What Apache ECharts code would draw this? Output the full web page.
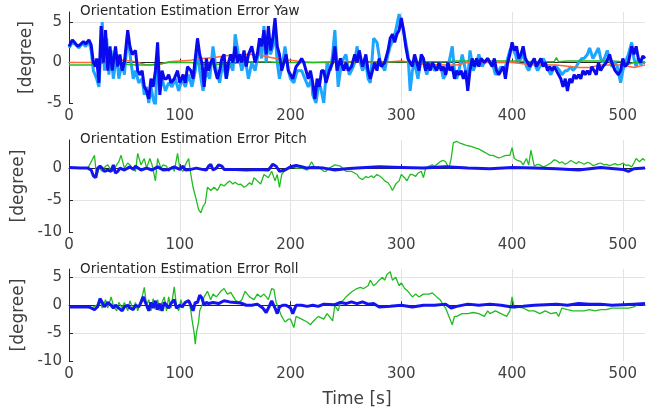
<!DOCTYPE html>
<html><head><meta charset="utf-8">
<script src="https://cdn.jsdelivr.net/npm/echarts@6/dist/echarts.min.js"></script>
<style>html,body{margin:0;padding:0;background:#fff}#c{width:654px;height:409px}</style>
</head><body><div id="c"></div>
<script>
const titles = ['Orientation Estimation Error Yaw','Orientation Estimation Error Pitch','Orientation Estimation Error Roll'];
const xTicks = [0,100,200,300,400,500];
const yawLight = [[0,1.8],[3,2.5],[6,2.2],[9,1.8],[12,2.4],[15,2],[18,2.6],[20,1.5],[22,-1],[25,-2],[27,-3],[30,5],[32,-1],[34,3],[36,-1.5],[38,1.5],[40,-2],[43,1],[45,-2],[48,0],[50,-1.5],[53,3.5],[56,0],[58,-2],[60,-1],[63,-2.5],[66,-2],[68,-4],[70,-3],[72,-5],[74,-3],[76,-4.5],[78,-5.5],[80,1],[82,-3.5],[84,-2],[87,-3.5],[90,-2.5],[93,-3],[96,-2],[99,-3.5],[102,-2],[105,-3],[108,-1.5],[111,-3],[114,-1],[116,1.5],[118,-1],[121,-3.5],[124,-1],[127,-2],[130,2],[133,-1],[136,-2.5],[139,0],[142,-2],[145,0],[148,-1],[150,3.5],[153,1],[156,-1],[159,0.5],[162,-2],[165,0],[168,-1],[172,2],[174,0.5],[176,4.5],[178,0],[180,3],[182,1],[184,2],[186,4],[188,0],[190,-2],[193,0],[195,2],[198,-1],[200,-2],[203,-2.5],[206,-1],[210,-1],[213,-2],[216,-3],[219,-2],[220,-4],[223,-5],[225,-3],[227,-3],[230,-5],[233,0],[236,-1],[238,1],[240,4],[243,-3],[246,0],[250,1],[253,-1.5],[255,-1],[258,0],[260,2],[263,0],[265,-1],[268,0],[270,-2],[272,-2.5],[275,3],[278,2.5],[281,0],[285,-1],[288,1],[290,2],[293,3],[295,4],[298,6],[300,5],[302,4],[304,2.5],[306,1],[308,-3.5],[310,-1],[312,0],[315,-2],[318,0.5],[320,0],[323,-1.5],[326,0],[330,-1],[333,-0.5],[335,0],[338,-2],[340,-1.5],[343,0],[346,2],[348,-1],[350,-2],[352,-1],[355,1],[358,-1],[360,-2],[362,1.5],[365,-1],[368,0],[370,1],[373,-0.5],[375,0],[378,0.5],[380,0],[383,-0.5],[385,-1.5],[388,-1],[390,-0.5],[393,-1],[395,0],[398,1.5],[400,2],[403,1],[405,0],[408,0.5],[410,1],[413,-0.5],[415,-1],[418,0],[420,0],[423,-1],[425,-0.5],[428,0.5],[430,0],[433,-1],[435,-1.5],[438,-0.5],[440,-0.5],[443,-1],[445,-1.5],[448,-1],[450,-1],[453,-0.5],[455,-1],[458,-0.5],[460,0],[463,0.5],[465,0.5],[468,1],[470,1.8],[473,0.5],[475,1],[478,1.8],[480,0.5],[482,0],[486,1.5],[488,0.5],[490,-0.5],[493,0],[495,-0.5],[498,-2.5],[500,-1],[502,0],[505,1],[508,2.5],[510,0.5],[512,-0.5],[514,0.5],[516,-0.2],[518,0],[520,0]];
const yawDark = [[0,2],[3,2.8],[5,2.5],[8,2.0],[10,2.2],[13,2.6],[15,2.3],[18,2.8],[20,2.2],[22,0],[24,-0.5],[25,0.5],[27,-2.5],[29,4.5],[31,0],[33,4],[35,-1],[37,2],[39,-1],[42,2],[44,-0.5],[46,1],[48,-1],[50,0],[53,4],[55,2],[57,1],[60,1.5],[62,-1],[64,-1.5],[66,-1],[68,-3],[70,-3.5],[72,-4.5],[74,-2],[76,-3],[78,-1],[80,2.5],[82,-4],[84,-1],[86,-2],[88,-2],[90,-1.5],[92,-2.5],[95,-2],[98,-1],[100,-2.5],[103,-1.5],[105,-2.5],[107,-0.5],[110,-1],[112,-2],[114,0.5],[116,3],[118,1],[120,0],[122,-3],[124,0.5],[126,-1],[128,0],[130,0.5],[132,-1],[134,-2],[136,-1],[138,0.5],[140,1],[142,-2],[144,0],[146,1],[148,0],[150,2],[152,0],[154,1],[156,0],[158,1.5],[160,-0.5],[162,1],[165,2],[168,0],[170,1],[172,3],[174,2],[176,4],[178,1],[180,4.5],[182,1.5],[184,3],[186,5.5],[188,2],[190,1],[192,-1],[194,0],[196,1],[198,-1],[200,-1.5],[202,-2],[205,-0.5],[208,0],[210,0.5],[212,0],[214,-1],[216,-2],[218,-1],[220,-2.5],[222,-4.5],[224,-2],[226,-3],[228,-1],[230,-1],[232,-2.5],[235,-1],[238,0],[240,2],[242,-1],[245,0.5],[248,-1],[250,0],[252,-1],[255,-0.5],[258,1],[260,0],[262,1.5],[265,-0.5],[268,1],[270,-1],[272,-2],[274,-1],[276,0],[278,-1],[280,0.5],[282,-0.5],[285,0],[288,1.5],[290,3],[292,3.5],[294,2.5],[296,3.5],[298,4],[300,5.5],[302,4],[304,2],[306,0.5],[308,0],[310,-0.5],[312,1],[314,0],[316,-1],[318,1],[320,0.5],[322,-1],[324,0],[326,-1],[328,0],[330,-0.5],[332,-1],[334,0],[336,-1],[338,-0.5],[340,-1.5],[342,0],[344,-1],[346,-0.5],[348,-2],[350,-1],[352,-1.5],[354,-1],[356,-2],[358,-1],[360,-3.5],[362,-1],[364,0.5],[366,-0.5],[368,0.5],[370,-0.5],[372,0.5],[375,0],[378,0.5],[380,0],[382,-0.5],[384,0.5],[386,-1],[388,-1.5],[390,-1],[392,-0.5],[394,-2],[396,0],[398,1],[400,2.5],[402,1.5],[404,2],[406,0.5],[408,1],[410,2],[412,0.5],[414,0],[416,-0.5],[418,0],[420,0.5],[422,-0.5],[424,0],[426,0.5],[428,-0.5],[430,0],[432,-1],[434,-0.5],[436,-1],[438,-0.5],[440,-1],[442,-1.5],[444,-2],[446,-3],[448,-2],[450,-3.5],[452,-2],[454,-2.5],[456,-1.5],[458,-2],[460,-1.5],[462,-2],[464,-1],[466,-1.5],[468,-1],[470,-1.5],[472,-0.5],[474,-1],[476,-1.5],[478,0],[480,-1],[482,-0.5],[485,0],[488,1],[490,0],[493,-1],[496,-1.5],[498,-1],[500,0.5],[502,-0.5],[505,0],[508,2],[510,1],[512,2],[514,0.5],[516,0],[518,0.8],[520,0.5]];
const yawOrange = [[0,0],[10,0],[20,0],[30,0.2],[40,0.2],[50,0.3],[60,0.1],[70,-0.3],[80,-0.3],[90,0.1],[100,0.2],[110,0.3],[120,0.5],[130,0.6],[140,0.8],[150,1.0],[160,1.0],[170,1.0],[180,0.7],[190,0.4],[200,0.3],[210,0.1],[220,0],[230,0],[240,0],[260,0.1],[280,0],[300,0.2],[320,-0.2],[340,-0.3],[350,-0.3],[360,0],[380,0],[400,0],[420,-0.3],[440,-0.3],[460,-0.6],[470,-0.6],[480,-0.3],[500,-0.3],[510,-0.6],[520,-0.3]];
const yawGreen = [[0,-0.3],[10,-0.3],[20,-0.3],[25,-0.1],[30,-0.1],[40,-0.1],[50,-0.2],[60,-0.3],[70,-0.3],[80,-0.2],[90,0],[100,0],[110,0],[120,-0.2],[130,-0.2],[140,-0.2],[150,-0.1],[160,0.1],[170,0.1],[180,0.1],[190,0],[200,0],[210,0],[220,0],[240,0.1],[260,0.1],[280,0.1],[300,0.1],[320,0.1],[340,0.1],[350,0.2],[370,0.2],[400,0.2],[420,0.1],[438,0.1],[440,0.6],[442,0.1],[450,0.2],[470,0.2],[490,0.2],[500,0.1],[505,-0.2],[510,0],[520,0.1]];
const pitchGreen = [[0,0],[10,0],[17,0],[20,1],[23,2],[25,-1.5],[27,0],[30,-0.5],[33,0.3],[35,0.5],[38,-0.3],[40,-0.5],[43,0.5],[45,1],[47,2],[50,0],[53,0.8],[55,0.5],[58,-0.2],[60,-0.5],[62,2.3],[65,0.5],[68,1.5],[70,0],[73,1.5],[75,0.5],[78,-2],[80,1.5],[83,0],[85,0.5],[88,0.3],[90,-0.5],[93,0.2],[95,-0.5],[98,2.3],[100,0],[103,-0.5],[105,0.5],[108,1.5],[110,-1],[112,-3],[115,-5],[117,-6.5],[119,-7],[121,-6],[123,-5.5],[125,-3],[128,-3.5],[131,-3],[134,-3.5],[137,-2.5],[140,-2.8],[143,-2.3],[145,-2],[148,-2.5],[150,-2.2],[153,-2.6],[155,-2.5],[158,-3],[160,-2.8],[163,-2.3],[165,-2.6],[167,-1.5],[170,-2],[173,-2.5],[176,-1],[180,-1.5],[183,-0.5],[186,-2],[188,-1],[190,-3],[192,-1],[195,-0.3],[200,0.3],[205,0],[210,0],[215,-0.3],[219,1],[222,0],[225,0.2],[230,-0.5],[232,-0.5],[235,0],[240,0.5],[245,0.3],[250,-0.5],[255,-0.5],[260,-1],[262,-1.5],[265,-1.8],[268,-1.3],[270,-1.5],[273,-1.2],[275,-1.5],[278,-1],[280,-1.2],[283,-1.6],[285,-2],[288,-2.3],[290,-2.8],[292,-3.5],[295,-2.5],[298,-2],[300,-1],[303,-1.5],[305,-2],[308,-1],[310,-1],[313,-1.3],[315,-0.8],[318,-0.5],[320,-1.5],[322,0],[325,0.3],[328,0.5],[330,0.3],[333,0.7],[335,1],[338,1.2],[340,1],[343,0],[345,1.5],[347,4],[350,4.2],[353,3.9],[355,3.8],[358,3.6],[360,3.5],[363,3.4],[365,3.3],[368,3.1],[370,3],[373,2.7],[375,2.5],[378,2.2],[380,2],[383,2],[385,1.8],[388,1.6],[390,1.7],[393,1.9],[395,2],[398,2],[400,3.2],[402,1.5],[405,1.2],[408,1.0],[410,0.5],[413,1.5],[415,0.5],[417,2.8],[420,0.3],[423,0.6],[425,0.5],[428,0.2],[430,0.3],[433,0.6],[435,0.8],[438,1.3],[440,1.2],[443,0.8],[445,1],[448,0.6],[450,0.8],[453,1.2],[455,1],[458,0.7],[460,1],[463,0.8],[465,0.6],[468,0.9],[470,0.8],[473,0.4],[475,0.5],[478,0.7],[480,0.8],[483,0.5],[485,0.6],[488,0.4],[490,0.5],[493,0.7],[495,0.5],[498,0.6],[500,0.8],[503,0.4],[505,0.5],[508,0.2],[510,0.8],[512,1.5],[515,1],[518,1.5],[520,1.2]];
const pitchBlue = [[0,0.1],[10,0],[17,0],[20,-0.3],[22,-1.2],[24,-1.5],[26,0],[28,0.3],[30,0],[32,-0.5],[35,-0.3],[38,-0.5],[40,0.5],[42,-0.8],[44,-0.5],[46,0],[50,-0.3],[55,0.2],[58,-0.2],[60,0.3],[65,-0.3],[70,0],[75,-0.3],[80,0.2],[85,-0.3],[90,-0.2],[95,0.2],[100,-0.2],[103,0.3],[105,-0.3],[110,-0.2],[115,0],[120,-0.2],[124,-0.3],[126,0.3],[128,0.6],[130,-0.3],[133,0],[135,0.5],[138,0.3],[140,-0.2],[150,-0.2],[160,-0.3],[170,-0.2],[180,-0.3],[184,0.6],[187,0.3],[190,-0.5],[195,-0.3],[200,0.2],[205,0.4],[210,0.2],[215,0],[220,0.1],[230,0],[240,-0.3],[250,-0.1],[260,0],[280,0.2],[300,0.1],[320,0],[340,0.2],[360,0],[380,-0.1],[400,0.1],[420,0],[440,-0.1],[460,-0.3],[480,0.1],[500,-0.2],[505,-0.5],[510,-0.1],[520,0]];
const rollGreen = [[0,-0.3],[10,-0.3],[15,-0.3],[20,-0.5],[25,0],[28,1],[30,-0.5],[33,1],[35,-0.5],[38,1.5],[40,0],[43,-1],[45,0.5],[48,-0.5],[50,0.5],[53,-1],[55,0.8],[58,-0.8],[60,0.5],[62,-1],[65,1],[66,1.5],[68,3.2],[70,0],[72,1],[74,-1],[76,1.2],[78,-0.8],[80,1],[82,-1],[84,0.5],[86,1.5],[88,-1],[90,1.5],[92,-0.5],[94,2],[95,3.3],[97,0],[99,-1],[101,1],[103,-0.5],[105,0.5],[108,1],[110,-1],[111,-2.5],[113,-5],[114,-7],[115,-5],[117,-3],[118,-1],[120,0],[122,1.5],[125,2.5],[128,1],[130,2],[133,1.5],[137,2.5],[140,3],[143,2],[146,2.3],[150,1],[153,0.5],[156,1],[159,2.5],[160,2.8],[163,1.5],[167,1],[170,2],[173,1.5],[176,2],[180,1],[183,3],[185,2.8],[187,0.5],[190,-1],[192,-2],[195,-3],[198,-2.5],[200,-2.5],[203,-4],[205,-2],[210,-2.5],[215,-3],[218,-3.5],[220,-3],[225,-2],[230,-2.5],[233,-1.5],[235,-2],[238,-2.8],[240,0],[243,-1],[245,0.5],[248,1],[250,1.5],[253,2],[256,2.5],[260,3],[263,3.2],[266,3],[270,3.5],[272,4.5],[275,3.5],[278,4],[280,4.5],[283,5],[285,4.5],[287,5.5],[290,6],[292,4.5],[295,5],[298,3.5],[300,4],[303,3],[306,2.5],[310,1.5],[313,2],[316,1.5],[320,2],[325,2],[328,2.2],[332,1.5],[335,1],[338,0],[340,-0.5],[343,-2],[346,-3.5],[348,-2],[350,-2],[355,-1.5],[360,-1.5],[365,-1.3],[370,-1.5],[375,-2],[378,-1],[380,-1.5],[385,-1],[390,-1.5],[395,-2],[398,-1],[400,1.5],[402,-0.5],[405,-0.3],[410,-0.5],[415,-1],[420,-1],[425,-1.5],[430,-1],[435,-1.5],[440,-1.3],[442,-2],[445,-0.5],[450,-0.8],[455,-1],[460,-1],[465,-1],[470,-0.8],[475,-1],[480,-0.8],[485,-0.8],[490,-0.5],[495,-0.5],[500,-0.5],[505,-0.5],[510,-0.3],[515,0.3],[520,0]];
const rollBlue = [[0,-0.3],[10,-0.3],[15,-0.3],[18,-0.3],[20,-0.5],[23,-0.8],[26,-0.2],[28,1.2],[30,0.5],[32,-0.3],[35,0.5],[38,0],[40,-0.5],[42,0],[45,-0.5],[48,-1],[50,-0.3],[53,0],[55,-0.5],[58,-0.8],[60,0],[63,-0.3],[65,0.5],[67,1.5],[70,0],[72,-1],[74,0.5],[76,-0.5],[78,0.8],[80,-0.8],[82,0.3],[84,-1],[86,0.5],[88,0],[90,-0.5],[92,0.3],[95,1],[97,-0.5],[100,0],[102,-0.3],[105,0.5],[108,0.8],[110,0],[112,-1],[114,0.5],[116,0.5],[118,1.8],[120,1.3],[122,0],[124,0.5],[126,0.3],[130,0.5],[135,0.3],[140,0.8],[145,0.6],[150,0.5],[155,0.4],[160,0],[165,0],[170,0.2],[175,-0.5],[178,-1.3],[180,-0.5],[183,0.8],[186,-0.5],[188,-1.5],[190,-0.3],[193,0],[196,0],[200,-0.5],[202,-1.5],[205,0],[210,0],[215,-0.2],[220,0],[225,-0.2],[230,0.2],[240,0.1],[245,0.5],[250,0.3],[255,0.6],[260,0.3],[265,0.6],[270,0.2],[275,0.3],[280,-0.3],[290,-0.2],[300,0],[310,-0.3],[320,0],[330,0],[340,0.2],[345,-0.5],[350,-0.2],[360,0.2],[370,0],[380,0.2],[390,0],[400,-0.3],[410,-0.2],[420,0],[430,0.1],[440,0.2],[450,0],[460,0.3],[470,0.2],[480,0.2],[490,0],[500,0.1],[510,0.2],[520,0.3]];

const FONT = 'DejaVu Sans';
const TXT = '#404040';
const grids = [
  {left:69, right:9, top:12, height:91},
  {left:69, right:9, top:140, height:92},
  {left:69, right:9, top:269, height:93}
];
const yRanges = [[-5,6.25],[-10,4.4],[-10,6.5]];
function xAx(i){
  return {type:'value', gridIndex:i, min:0, max:520, interval:100,
    name: i===2 ? 'Time [s]' : '', nameLocation:'middle', nameGap:30,
    nameTextStyle:{fontFamily:FONT, fontSize:17, color:TXT},
    axisLine:{show:true, lineStyle:{color:'#262626', width:1}},
    axisTick:{show:true, inside:true, length:4, lineStyle:{color:'#262626'}},
    axisLabel:{fontFamily:FONT, fontSize:15, color:TXT, margin:6, showMaxLabel:false,
      formatter:v=> xTicks.includes(v)? String(v):''},
    splitLine:{show:true, showMinLine:false, showMaxLine:false, lineStyle:{color:'#e3e3e3', width:1}}
  };
}
function yAx(i){
  return {type:'value', gridIndex:i, min:yRanges[i][0], max:yRanges[i][1], interval:5,
    name:'[degree]', nameLocation:'middle', nameGap:34,
    nameTextStyle:{fontFamily:FONT, fontSize:17, color:TXT},
    axisLine:{show:true, lineStyle:{color:'#262626', width:1}},
    axisTick:{show:true, inside:true, length:4, lineStyle:{color:'#262626'}},
    axisLabel:{fontFamily:FONT, fontSize:15, color:TXT, margin:7, showMaxLabel:false,
      formatter:v=> (Math.abs(v%5)<1e-9)? String(v):''},
    splitLine:{show:true, showMinLine:false, showMaxLine:false, lineStyle:{color:'#e3e3e3', width:1}}
  };
}
function ln(data, i, color, width, z){
  return {type:'line', xAxisIndex:i, yAxisIndex:i, data:data, showSymbol:false, symbol:'none',
    lineStyle:{color:color, width:width}, z:z, animation:false};
}
const chart = echarts.init(document.getElementById('c'), null, {renderer:'canvas'});
chart.setOption({
  animation:false,
  backgroundColor:'#fff',
  title: titles.map((t,i)=>({text:t, left:80, top:[4,132,262][i], padding:0,
    textStyle:{fontFamily:FONT, fontSize:13.5, fontWeight:'normal', color:'#262626'}})),
  grid: grids,
  xAxis: [0,1,2].map(xAx),
  yAxis: [0,1,2].map(yAx),
  series: [
    ln(yawLight,0,'#1ea5ff',3,2),
    ln(yawOrange,0,'#ff6633',1.5,3),
    ln(yawGreen,0,'#22bb22',1.5,3),
    ln(yawDark,0,'#0a0aee',3,4),
    ln(pitchGreen,1,'#22bb22',1.3,2),
    ln(pitchBlue,1,'#1414f0',3,3),
    ln(rollGreen,2,'#22bb22',1.3,2),
    ln(rollBlue,2,'#1414f0',3,3)
  ]
});
</script></body></html>
